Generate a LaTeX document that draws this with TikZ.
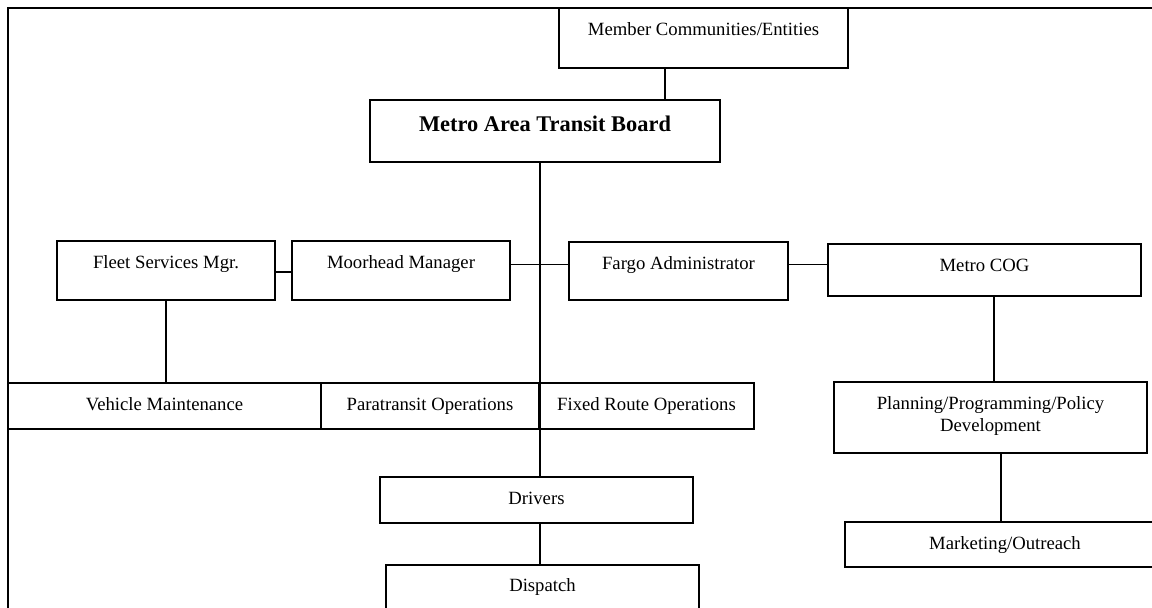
\documentclass[tikz,border=0pt]{standalone}
\usepackage{fontspec}
\setmainfont{Liberation Serif}
\begin{document}
\begin{tikzpicture}[x=1pt,y=-1pt,
  orgbox/.style={draw, rectangle, line width=1.3pt, inner sep=0pt, outer sep=0pt, anchor=north west},
  caption/.style={anchor=base, align=center, inner sep=0pt, yshift=-27.5pt,
    font=\fontsize{18.7}{21.7}\selectfont},
  boldcaption/.style={anchor=base, inner sep=0pt, yshift=-31.5pt,
    font=\fontsize{22.4}{26}\selectfont\bfseries},
  link/.style={draw, line width=1.3pt},
  frame/.style={draw, line width=2pt}]
\useasboundingbox (0,0) rectangle (1152,608);

% outer frame (top and left edges)
\draw[frame] (8,620) -- (8,8) -- (1160,8);

% boxes
\node[orgbox, minimum width=289pt, minimum height=60pt,
  label={[caption]north:Member Communities/Entities}] (mce) at (559,8) {};
\node[orgbox, minimum width=350pt, minimum height=62pt,
  label={[boldcaption]north:Metro Area Transit Board}] (board) at (370,100) {};
\node[orgbox, minimum width=218pt, minimum height=59pt,
  label={[caption]north:Fleet Services Mgr.}] (fleet) at (57,241) {};
\node[orgbox, minimum width=218pt, minimum height=59pt,
  label={[caption]north:Moorhead Manager}] (moor) at (292,241) {};
\node[orgbox, minimum width=219pt, minimum height=58pt,
  label={[caption]north:Fargo Administrator}] (fargo) at (569,242) {};
\node[orgbox, minimum width=313pt, minimum height=52pt,
  label={[caption]north:Metro COG}] (cog) at (828,244) {};
\node[orgbox, minimum width=313pt, minimum height=46pt,
  label={[caption]north:Vehicle Maintenance}] (veh) at (8,383) {};
\node[orgbox, minimum width=218pt, minimum height=46pt,
  label={[caption]north:Paratransit Operations}] (para) at (321,383) {};
\node[orgbox, minimum width=215pt, minimum height=46pt,
  label={[caption]north:Fixed Route Operations}] (fixed) at (539,383) {};
% two-line caption: the base anchor sits on the last line
\node[orgbox, minimum width=313pt, minimum height=71pt,
  label={[caption, yshift=-21.7pt]north:Planning/Programming/Policy\\Development}] (plan) at (834,382) {};
\node[orgbox, minimum width=313pt, minimum height=46pt,
  label={[caption]north:Drivers}] (drivers) at (380,477) {};
\node[orgbox, minimum width=313pt, minimum height=60pt,
  label={[caption, yshift=1pt]north:Dispatch}] (dispatch) at (386,565) {};
\node[orgbox, minimum width=320pt, minimum height=45pt,
  label={[caption]north:Marketing/Outreach}] (market) at (845,522) {};

% main vertical spine
\coordinate (spine) at (540,0);

% connectors
\draw[link] ([xshift=-38.5pt]mce.south) -- ([xshift=-38.5pt]mce.south |- board.north);
\draw[link] (board.south -| spine) -- (drivers.north -| spine);
\draw[link] ([yshift=-1.5pt]fleet.east) -- ([yshift=-1.5pt]fleet.east -| moor.west);
\draw[link] ([yshift=6pt]moor.east) -- ([yshift=6pt]moor.east -| fargo.west);
\draw[link] ([yshift=6.5pt]fargo.east) -- ([yshift=6.5pt]fargo.east -| cog.west);
\draw[link] (fleet.south) -- (fleet.south |- veh.north);
\draw[link] ([xshift=9.5pt]cog.south) -- ([xshift=9.5pt]cog.south |- plan.north);
\draw[link] ([xshift=10.5pt]plan.south) -- ([xshift=10.5pt]plan.south |- market.north);
\draw[link] (drivers.south -| spine) -- (dispatch.north -| spine);
\end{tikzpicture}
\end{document}
